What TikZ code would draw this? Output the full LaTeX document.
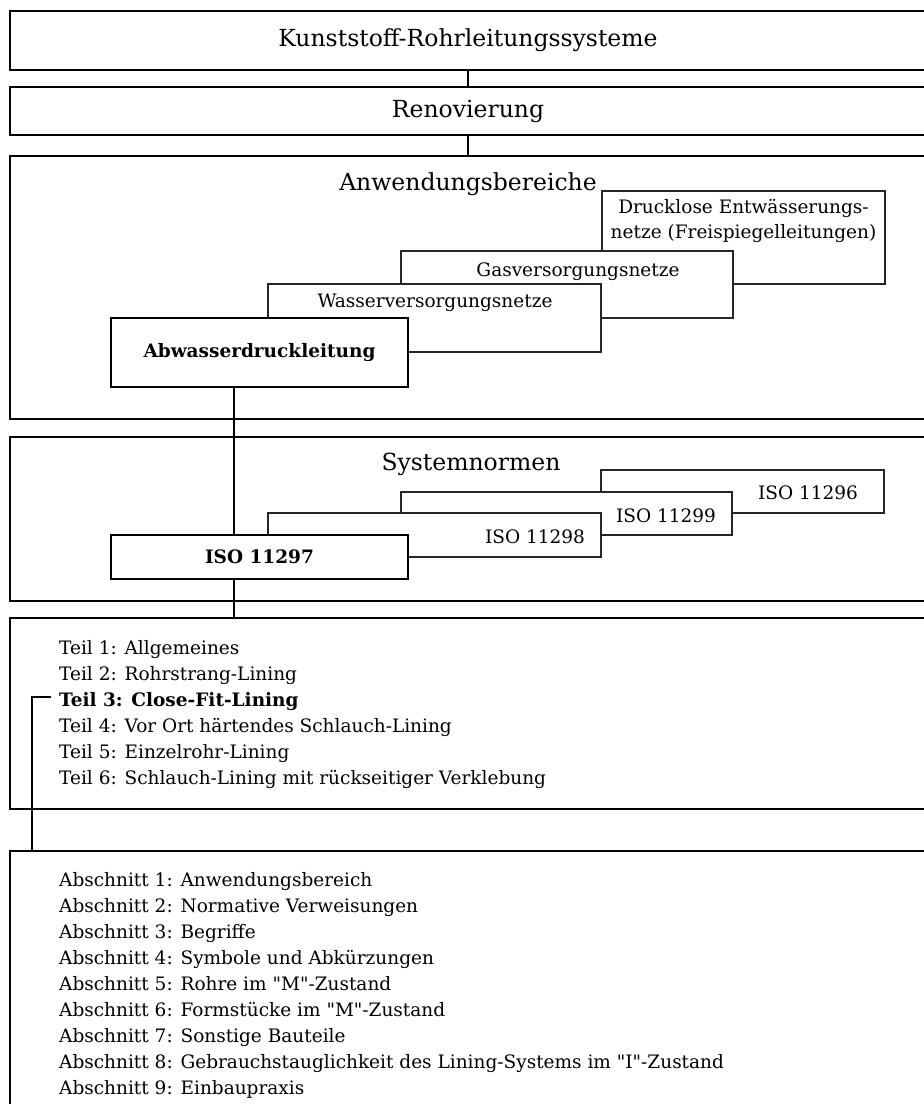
\documentclass[tikz,border=0pt]{standalone}
\usepackage{fontspec}
\setmainfont{DejaVu Serif}
\usepackage{tikz}
\usetikzlibrary{positioning}

\begin{document}
\begin{tikzpicture}[x=1pt,y=-1pt,
  % Outer frame, runs past the right edge
  frame/.style = {draw=black, line width=2pt, fill=white,
                  minimum width=916pt, inner sep=0pt},
  % Stacked back boxes
  sub/.style   = {draw=black!85, line width=1.1pt, fill=white, inner sep=0pt},
  % Front box (selected)
  main/.style  = {draw=black, line width=2.6pt, fill=white, inner sep=0pt,
                  minimum width=297pt, font=\fontsize{18.5}{22}\selectfont\bfseries},
  big/.style   = {font=\fontsize{23.5}{28}\selectfont},
  txt/.style   = {font=\fontsize{18.5}{25}\selectfont, inner sep=0pt, anchor=base,
                  align=center},
  lst/.style   = {font=\fontsize{18.5}{26}\selectfont, inner sep=0pt, anchor=base west},
  link/.style  = {line width=1.5pt},
  trunk/.style = {line width=2.2pt}
]
\useasboundingbox (0,0) rectangle (924,1104);

% Outer frames, top to bottom
\node[frame, big, minimum height=59pt](KRS) at (468,  40.5){Kunststoff-Rohrleitungssysteme};
\node[frame, big, minimum height=48pt](REN) at (468, 111.0){Renovierung};
\node[frame, minimum height=263pt](ANW) at (468, 287.5){};
\node[frame, minimum height=164pt](SYS) at (468, 519.0){};
\node[frame, minimum height=191pt](TEIL) at (468, 713.5){};
\node[frame, minimum height=261pt](ABS) at (468, 981.5){};

\node[big, inner sep=0pt, anchor=base](ANWt) at (468,190){Anwendungsbereiche};
\node[big, inner sep=0pt, anchor=base](SYSt) at (471,470){Systemnormen};

% Anwendungsbereiche: back to front
\node[sub, minimum width=283pt, minimum height=93pt](DRU) at (743.5,237.5){};
\node[txt] at (743.5,238){Drucklose Entwässerungs-\\netze (Freispiegelleitungen)};
\node[sub, minimum width=332pt, minimum height=67pt](GAS) at (567.0,284.5){};
\node[txt] at (578,276){Gasversorgungsnetze};
\node[sub, minimum width=333pt, minimum height=68pt](WAS) at (434.5,318.0){};
\node[txt] at (435,307){Wasserversorgungsnetze};
\node[main, minimum height=69pt](ABW) at (259.5,352.5){Abwasserdruckleitung};

% Systemnormen: back to front
\node[sub, minimum width=283pt, minimum height=43pt](I96) at (742.5,491.5){};
\node[txt] at (808,499){ISO 11296};
\node[sub, minimum width=331pt, minimum height=43pt](I99) at (566.5,513.5){};
\node[txt] at (666,522){ISO 11299};
\node[sub, minimum width=333pt, minimum height=44pt](I98) at (434.5,535.0){};
\node[txt] at (535,543){ISO 11298};
\node[main, minimum height=44pt](I97) at (259.5,557.0){ISO 11297};

% Parts
\node[lst](T1) at (59,654){Teil 1: Allgemeines};
\node[lst](T2) at (59,680){Teil 2: Rohrstrang-Lining};
\node[lst, font=\fontsize{18.5}{26}\selectfont\bfseries](T3) at (59,706){Teil 3: Close-Fit-Lining};
\node[lst](T4) at (59,732){Teil 4: Vor Ort härtendes Schlauch-Lining};
\node[lst](T5) at (59,758){Teil 5: Einzelrohr-Lining};
\node[lst](T6) at (59,784){Teil 6: Schlauch-Lining mit rückseitiger Verklebung};

% Sections of part 3
\node[lst](A1) at (59, 886){Abschnitt 1: Anwendungsbereich};
\node[lst](A2) at (59, 912){Abschnitt 2: Normative Verweisungen};
\node[lst](A3) at (59, 938){Abschnitt 3: Begriffe};
\node[lst](A4) at (59, 964){Abschnitt 4: Symbole und Abkürzungen};
\node[lst](A5) at (59, 990){Abschnitt 5: Rohre im \textquotedbl M\textquotedbl-Zustand};
\node[lst](A6) at (59,1016){Abschnitt 6: Formstücke im \textquotedbl M\textquotedbl-Zustand};
\node[lst](A7) at (59,1042){Abschnitt 7: Sonstige Bauteile};
\node[lst](A8) at (59,1068){Abschnitt 8: Gebrauchstauglichkeit des Lining-Systems im \textquotedbl I\textquotedbl-Zustand};
\node[lst](A9) at (59,1094){Abschnitt 9: Einbaupraxis};

% Connectors
\coordinate(TX) at (234,0);
\coordinate(LX) at (32,0);
\draw[link](KRS.south)--(REN.north);
\draw[link](REN.south)--(ANW.north);
\draw[trunk](ABW.south -| TX)--(I97.north -| TX);
\draw[trunk](I97.south -| TX)--(TEIL.north -| TX);
\draw[trunk, line width=2.6pt]([xshift=-8pt,yshift=4pt]T3.west) -| (ABS.north -| LX);

\end{tikzpicture}
\end{document}
